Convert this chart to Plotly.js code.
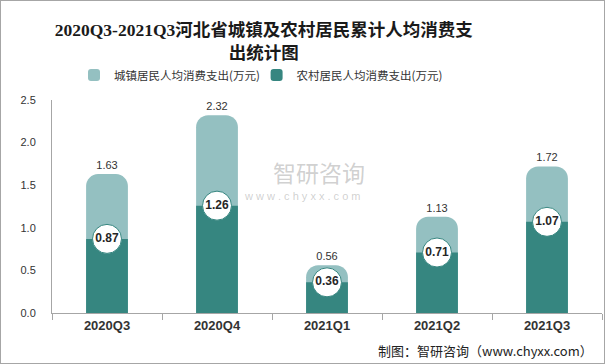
<!DOCTYPE html>
<html>
<head>
<meta charset="utf-8">
<script src="https://cdn.plot.ly/plotly-3.0.1.min.js"></script>
<style>
html,body{margin:0;padding:0;background:#fff;}
#wrap{position:relative;width:605px;height:364px;}
#chart{width:605px;height:364px;}
#frame{position:absolute;left:0;top:0;width:605px;height:364px;box-sizing:border-box;border:1px solid #a6a6a6;pointer-events:none;}
</style>
</head>
<body>
<div id="wrap"><div id="chart"></div><div id="frame"></div></div>
<script>
const categories = ["2020Q3", "2020Q4", "2021Q1", "2021Q2", "2021Q3"];
const urbanValues = [1.63, 2.32, 0.56, 1.13, 1.72];
const ruralValues = [0.87, 1.26, 0.36, 0.71, 1.07];
const urbanName = "城镇居民人均消费支出(万元)";
const ruralName = "农村居民人均消费支出(万元)";
const titleText = "2020Q3-2021Q3河北省城镇及农村居民累计人均消费支<br>出统计图";

const fmt = v => v.toFixed(2);

const traces = [
  {
    type: "bar", name: urbanName, x: categories, y: urbanValues,
    width: 0.38, legend: "legend",
    marker: {color: "#94c0c1", cornerradius: 12},
    text: urbanValues.map(fmt), textposition: "outside", cliponaxis: false,
    textfont: {size: 11, color: "#333333", family: "Liberation Sans, Noto Sans CJK SC"},
    hoverinfo: "skip"
  },
  {
    type: "bar", name: ruralName, x: categories, y: ruralValues,
    width: 0.38, legend: "legend2",
    marker: {color: "#368680", cornerradius: 12},
    textposition: "none",
    hoverinfo: "skip"
  },
  {
    type: "scatter", mode: "markers+text", x: categories, y: ruralValues,
    showlegend: false, cliponaxis: false,
    marker: {size: 29, color: "#ffffff", line: {color: "#368680", width: 1}},
    text: ruralValues.map(fmt), textposition: "middle center",
    textfont: {size: 12, color: "#262626", family: "Liberation Sans, Noto Sans CJK SC", weight: "bold"},
    hoverinfo: "skip"
  }
];

const legendBase = {
  orientation: "h", xanchor: "left", y: 1.117, yanchor: "middle",
  font: {size: 11.5, color: "#333333", family: "Noto Sans CJK SC"},
  itemwidth: 30, bgcolor: "rgba(0,0,0,0)"
};

const layout = {
  width: 605, height: 364,
  margin: {l: 52, r: 3, t: 100, b: 51},
  paper_bgcolor: "#ffffff", plot_bgcolor: "#ffffff",
  barmode: "overlay",
  title: {
    text: titleText,
    xref: "container", x: 0.436, xanchor: "center",
    yref: "container", y: 0.9, yanchor: "middle",
    font: {family: "Liberation Serif, Noto Sans CJK SC", size: 17.5, color: "#1a1a1a", weight: "bold"}
  },
  legend: Object.assign({}, legendBase, {x: 0.04}),
  legend2: Object.assign({}, legendBase, {x: 0.372}),
  xaxis: {
    type: "category",
    showline: true, linecolor: "#a6a6a6", linewidth: 1,
    ticks: "outside", tickson: "boundaries", ticklen: 6, tickcolor: "#a6a6a6",
    tickfont: {size: 13, color: "#333333", family: "Liberation Sans", weight: "bold"},
    showgrid: false, fixedrange: true
  },
  yaxis: {
    range: [0, 2.5], dtick: 0.5, tickformat: ".1f",
    showline: true, linecolor: "#a6a6a6", linewidth: 1,
    ticks: "", showgrid: false, zeroline: false,
    tickfont: {size: 11, color: "#333333", family: "Liberation Sans"},
    ticklabelstandoff: 13
  },
  annotations: [
    {text: "智研咨询", xref: "paper", yref: "paper", x: 0.485, y: 0.66, showarrow: false,
     font: {size: 23, color: "rgba(150,150,150,0.45)", family: "Noto Sans CJK SC"}},
    {text: "w w w . c h y x x . c o m", xref: "paper", yref: "paper", x: 0.456, y: 0.55, showarrow: false,
     font: {size: 11, color: "rgba(150,150,150,0.45)", family: "Liberation Sans"}},
    {text: "制图：智研咨询（www.chyxx.com）", xref: "paper", yref: "paper", x: 1, xanchor: "right", xshift: -7,
     y: 0, yanchor: "top", yshift: -26, showarrow: false,
     font: {size: 13, color: "#222222", family: "Noto Sans CJK SC"}}
  ]
};

Plotly.newPlot("chart", traces, layout, {displayModeBar: false, staticPlot: true});
</script>
</body>
</html>
